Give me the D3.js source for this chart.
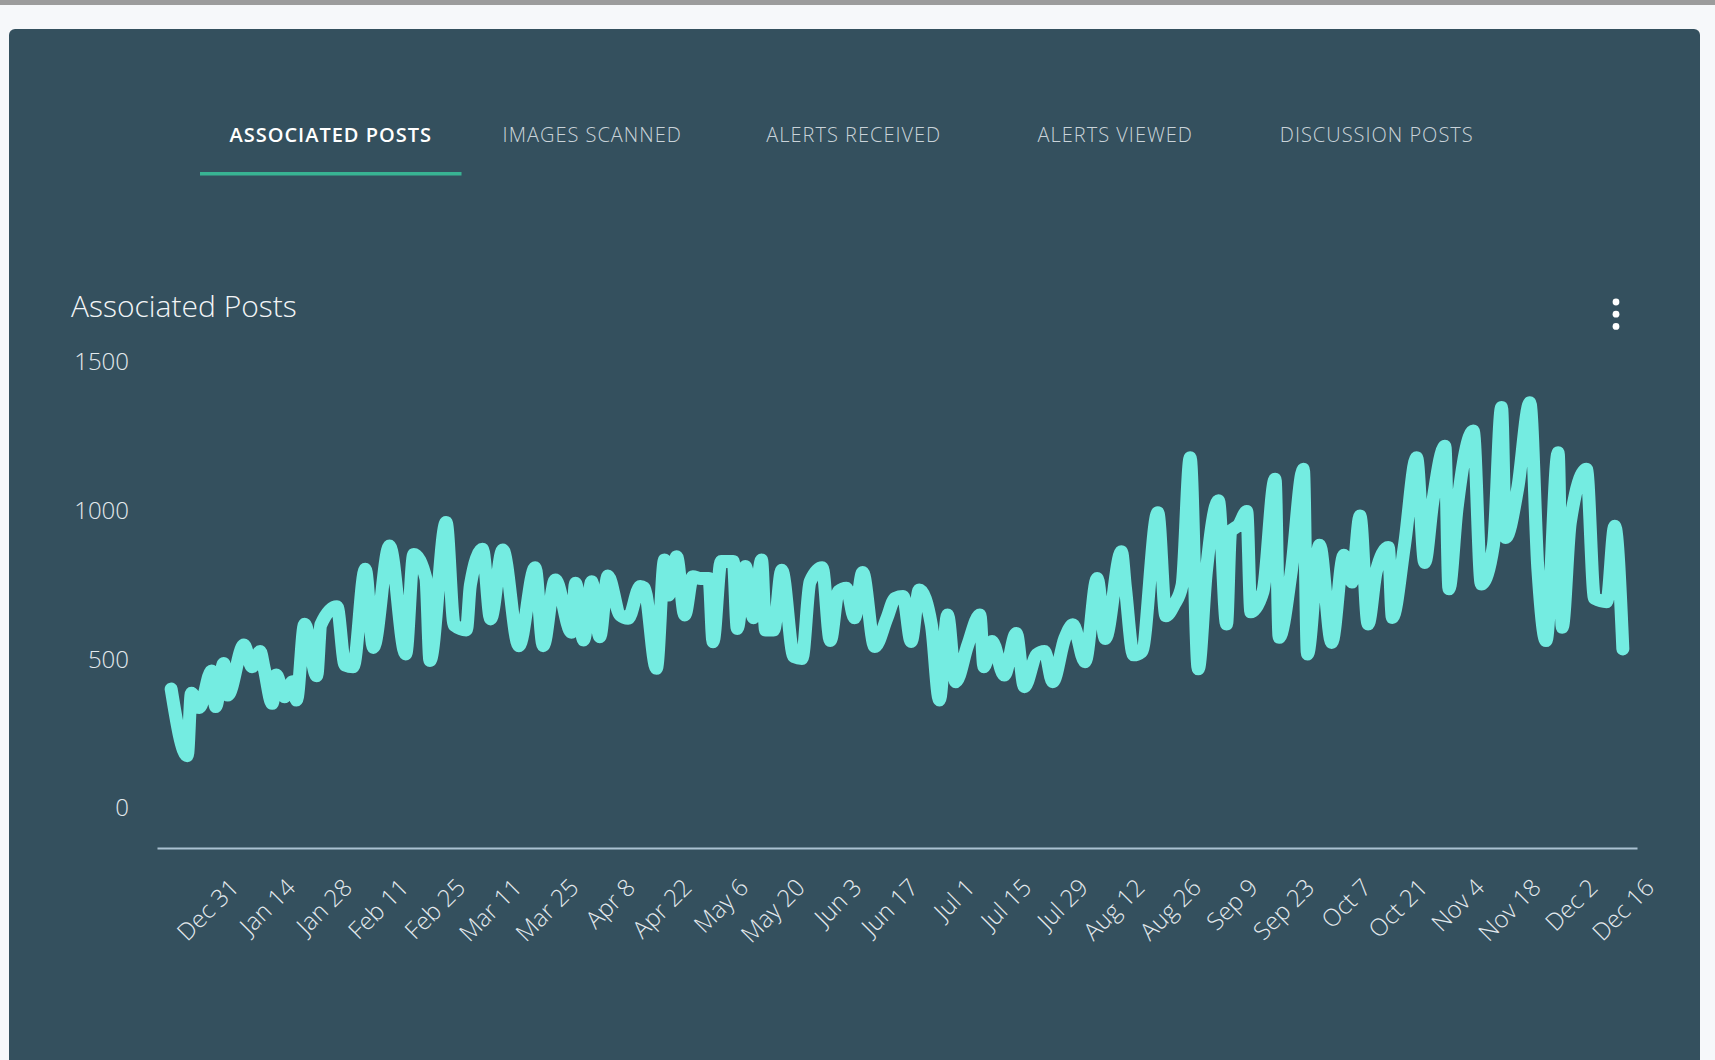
<!DOCTYPE html>
<html>
<head>
<meta charset="utf-8">
<script src="https://cdnjs.cloudflare.com/ajax/libs/d3/7.8.5/d3.min.js"></script>
<style>
    body { margin: 0; background: #f6f8fa; overflow: hidden; }
    svg { display: block; font-family: "Open Sans", "Segoe UI", sans-serif; }
</style>
</head>
<body>
<svg id="chart" width="1715" height="1060"></svg>
<script>
var tabs = ['ASSOCIATED POSTS', 'IMAGES SCANNED', 'ALERTS RECEIVED', 'ALERTS VIEWED', 'DISCUSSION POSTS']
var activeTab = 0
var title = 'Associated Posts'
var yTicks = [0, 500, 1000, 1500]
var tickDates = ['2017-12-31', '2018-01-14', '2018-01-28', '2018-02-11', '2018-02-25', '2018-03-11',
    '2018-03-25', '2018-04-08', '2018-04-22', '2018-05-06', '2018-05-20', '2018-06-03', '2018-06-17',
    '2018-07-01', '2018-07-15', '2018-07-29', '2018-08-12', '2018-08-26', '2018-09-09', '2018-09-23',
    '2018-10-07', '2018-10-21', '2018-11-04', '2018-11-18', '2018-12-02', '2018-12-16']
var tickLabels = ['Dec 31', 'Jan 14', 'Jan 28', 'Feb 11', 'Feb 25', 'Mar 11', 'Mar 25', 'Apr 8', 'Apr 22',
    'May 6', 'May 20', 'Jun 3', 'Jun 17', 'Jul 1', 'Jul 15', 'Jul 29', 'Aug 12', 'Aug 26', 'Sep 9',
    'Sep 23', 'Oct 7', 'Oct 21', 'Nov 4', 'Nov 18', 'Dec 2', 'Dec 16']

// posts per day, read at the turning points of the line (days counted from startDate)
var startDate = '2017-12-14'
var days = [0, 4, 5, 7, 10, 11, 13, 14, 18, 20, 22, 23, 25, 26, 28, 30, 31, 33, 36, 37,
    41, 43, 45, 48, 50, 54, 58, 60, 63, 64, 68, 70, 73, 74, 77, 79, 82, 86, 90, 92,
    95, 99, 100, 102, 104, 106, 108, 111, 113, 116, 117, 120, 122, 123, 125, 127, 129, 131, 133, 134,
    136, 139, 140, 142, 144, 146, 147, 149, 151, 154, 156, 158, 161, 163, 165, 167, 169, 171, 174, 177,
    179, 181, 183, 185, 188, 190, 192, 194, 197, 200, 201, 203, 206, 209, 211, 214, 216, 218, 221, 223,
    226, 229, 231, 235, 236, 238, 240, 244, 246, 248, 250, 252, 254, 256, 259, 261, 262, 264, 266, 267,
    270, 273, 274, 277, 280, 281, 284, 287, 290, 292, 294, 296, 298, 301, 302, 305, 308, 310, 312, 315,
    316, 318, 322, 324, 327, 329, 330, 333, 336, 338, 340, 343, 344, 346, 350, 352, 355, 357, 359]
var posts = [400, 176, 386, 338, 461, 341, 486, 380, 548, 475, 526, 470, 352, 447, 374, 425, 363, 618, 445, 616,
    677, 481, 475, 803, 540, 881, 518, 853, 772, 496, 960, 615, 599, 750, 870, 636, 868, 546, 808, 546,
    767, 591, 756, 565, 761, 576, 780, 649, 638, 745, 740, 470, 834, 716, 845, 649, 778, 772, 772, 559,
    829, 829, 604, 812, 640, 834, 599, 599, 800, 509, 503, 761, 808, 563, 728, 739, 640, 792, 543, 638,
    705, 711, 560, 733, 616, 363, 649, 425, 548, 649, 475, 560, 447, 587, 408, 515, 526, 425, 571, 616,
    492, 772, 570, 862, 740, 515, 526, 993, 647, 683, 750, 1178, 468, 795, 1033, 619, 929, 952, 997, 660,
    728, 1106, 574, 795, 1139, 518, 884, 557, 850, 760, 982, 619, 795, 876, 641, 884, 1178, 826, 1030, 1217,
    737, 1008, 1268, 753, 884, 1347, 910, 1075, 1363, 800, 563, 1195, 608, 960, 1139, 705, 694, 948, 535]

var svg = d3.select('#chart')
var width = +svg.attr('width')
var height = +svg.attr('height')
var parse = d3.timeParse('%Y-%m-%d')
var start = parse(startDate)
var data = days.map(function (d, i) {
    return { date: d3.timeDay.offset(start, d), value: posts[i] }
})

// page chrome
svg.append('rect').attr('x', 0).attr('y', 0).attr('width', width).attr('height', 5).attr('fill', '#9c9c9c')
svg.append('rect')
    .attr('x', 9).attr('y', 29)
    .attr('width', 1691).attr('height', height)
    .attr('rx', 6)
    .attr('fill', '#34505e')

// tabs
var tabW = 261.5, tabX = 200
svg.append('g')
    .selectAll('text')
    .data(tabs)
    .enter()
    .append('text')
    .attr('x', (d, i) => tabX + tabW * i + tabW / 2)
    .attr('y', 142)
    .attr('text-anchor', 'middle')
    .attr('font-size', 20)
    .attr('letter-spacing', 1)
    .attr('font-weight', (d, i) => i == activeTab ? 600 : 300)
    .attr('fill', (d, i) => i == activeTab ? '#ffffff' : '#c9d3d9')
    .text(d => d)
svg.append('rect')
    .attr('x', tabX + tabW * activeTab).attr('y', 172)
    .attr('width', tabW).attr('height', 3.5)
    .attr('fill', '#38b393')

// title and menu
svg.append('text')
    .attr('x', 71).attr('y', 317)
    .attr('font-size', 30)
    .attr('font-weight', 300)
    .attr('fill', '#f2f5f7')
    .text(title)
svg.append('g')
    .selectAll('circle')
    .data([0, 1, 2])
    .enter()
    .append('circle')
    .attr('cx', 1616)
    .attr('cy', d => 302 + d * 12.2)
    .attr('r', 3.4)
    .attr('fill', '#ffffff')

// scales
var x = d3.scaleTime()
    .domain([new Date(2017, 11, 10, 12), new Date(2018, 11, 11, 12)])
    .range([157, 1637])
var y = d3.scaleLinear()
    .domain([0, 1500])
    .range([808, 362])

// y axis (labels only)
var yAxis = svg.append('g')
    .attr('transform', 'translate(129,0)')
    .call(d3.axisLeft(y).tickValues(yTicks).tickFormat(d3.format('d')).tickSize(0).tickPadding(0))
yAxis.select('.domain').remove()
yAxis.selectAll('text')
    .attr('font-family', '"Open Sans", sans-serif')
    .attr('font-size', 24)
    .attr('font-weight', 300)
    .attr('fill', '#e3e9ed')

// x axis
var xAxis = svg.append('g')
    .attr('transform', 'translate(0,848)')
    .call(d3.axisBottom(x)
        .tickValues(tickDates.map(parse))
        .tickFormat((d, i) => tickLabels[i])
        .tickSize(0)
        .tickSizeOuter(0))
xAxis.select('.domain')
    .attr('stroke', '#aac1d1')
    .attr('stroke-width', 2)
xAxis.selectAll('text')
    .attr('y', 0)
    .attr('dy', 0)
    .attr('text-anchor', 'end')
    .attr('transform', 'translate(0,41) rotate(-45)')
    .attr('font-family', '"Open Sans", sans-serif')
    .attr('font-size', 24)
    .attr('font-weight', 300)
    .attr('fill', '#e3e9ed')

// the line
var line = d3.line()
    .x(d => x(d.date))
    .y(d => y(d.value))
    .curve(d3.curveMonotoneX)
svg.append('path')
    .datum(data)
    .attr('d', line)
    .attr('fill', 'none')
    .attr('stroke', '#74ece1')
    .attr('stroke-width', 13)
    .attr('stroke-linejoin', 'round')
    .attr('stroke-linecap', 'round')
</script>
</body>
</html>
